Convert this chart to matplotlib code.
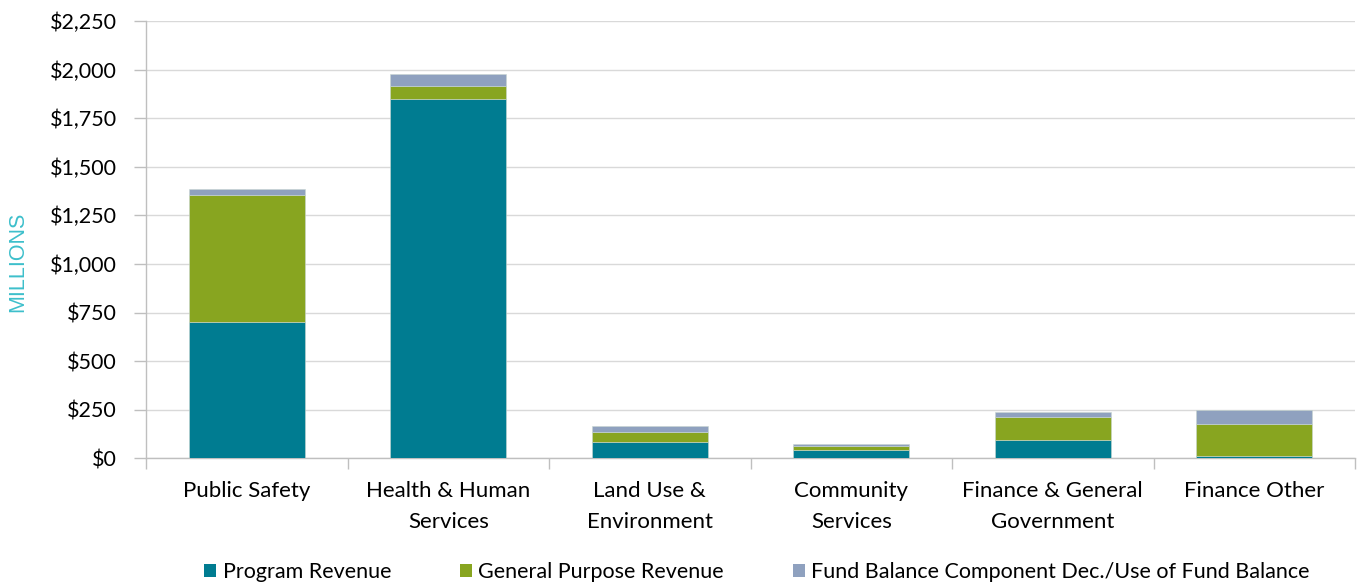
import matplotlib.pyplot as plt
from matplotlib.patches import Patch
from matplotlib.ticker import FuncFormatter, MultipleLocator
import numpy as np

categories = ["Public Safety", "Health & Human\nServices", "Land Use &\nEnvironment",
              "Community\nServices", "Finance & General\nGovernment", "Finance Other"]
program_revenue = [700, 1850, 84, 44, 93, 13]
general_purpose = [655, 66, 51, 19, 121, 162]
fund_balance = [30, 62, 30, 11, 23, 75]
series_names = ["Program Revenue", "General Purpose Revenue",
                "Fund Balance Component Dec./Use of Fund Balance"]
colors = ["#007C91", "#88A520", "#8FA1BF"]

plt.rcParams["font.family"] = ["Lato", "DejaVu Sans"]

fig = plt.figure(figsize=(13.57, 5.85), dpi=100)
ax = fig.add_axes([146 / 1357, (585 - 458.3) / 585, (1355 - 146) / 1357, (458.3 - 21) / 585])

x = np.arange(len(categories))
bottom = np.zeros(len(categories))
for vals, col in zip([program_revenue, general_purpose, fund_balance], colors):
    ax.bar(x, vals, width=0.575, bottom=bottom, color=col, edgecolor="#c8d6d0",
           linewidth=0.4, zorder=3)
    bottom += np.array(vals)

ax.set_xlim(-0.5, len(categories) - 0.5)
ax.set_ylim(0, 2250)
ax.yaxis.set_major_locator(MultipleLocator(250))
ax.yaxis.set_major_formatter(FuncFormatter(lambda v, p: f"${v:,.0f}"))
ax.grid(axis="y", color="#d9d9d9", linewidth=1.0, zorder=0)

ax.set_xticks(x)
ax.set_xticklabels(categories, fontsize=16, linespacing=1.72)
ax.set_xticks(np.arange(len(categories) + 1) - 0.5, minor=True)
ax.tick_params(axis="x", which="major", length=0, pad=16)
ax.tick_params(axis="x", which="minor", length=8, color="#bfbfbf", width=1)
ax.tick_params(axis="y", length=9, color="#bfbfbf", width=1, labelsize=15.5, pad=12)

for side in ["top", "right"]:
    ax.spines[side].set_visible(False)
for side in ["left", "bottom"]:
    ax.spines[side].set_color("#bfbfbf")
    ax.spines[side].set_linewidth(1)

fig.text(18 / 1357, 1 - 262 / 585, "MILLIONS", rotation=90, color="#3DBFCB",
         fontsize=15.5, family="Liberation Sans", ha="center", va="center")

handles = [Patch(facecolor=c, edgecolor="none") for c in colors]
fig.legend(handles, series_names, loc="center", bbox_to_anchor=(757 / 1357, 1 - 572 / 585),
           ncol=3, frameon=False, fontsize=15.5, handlelength=0.56, handleheight=0.56,
           handletextpad=0.3, columnspacing=3.2, borderaxespad=0)

fig.savefig("out.png", dpi=100)
